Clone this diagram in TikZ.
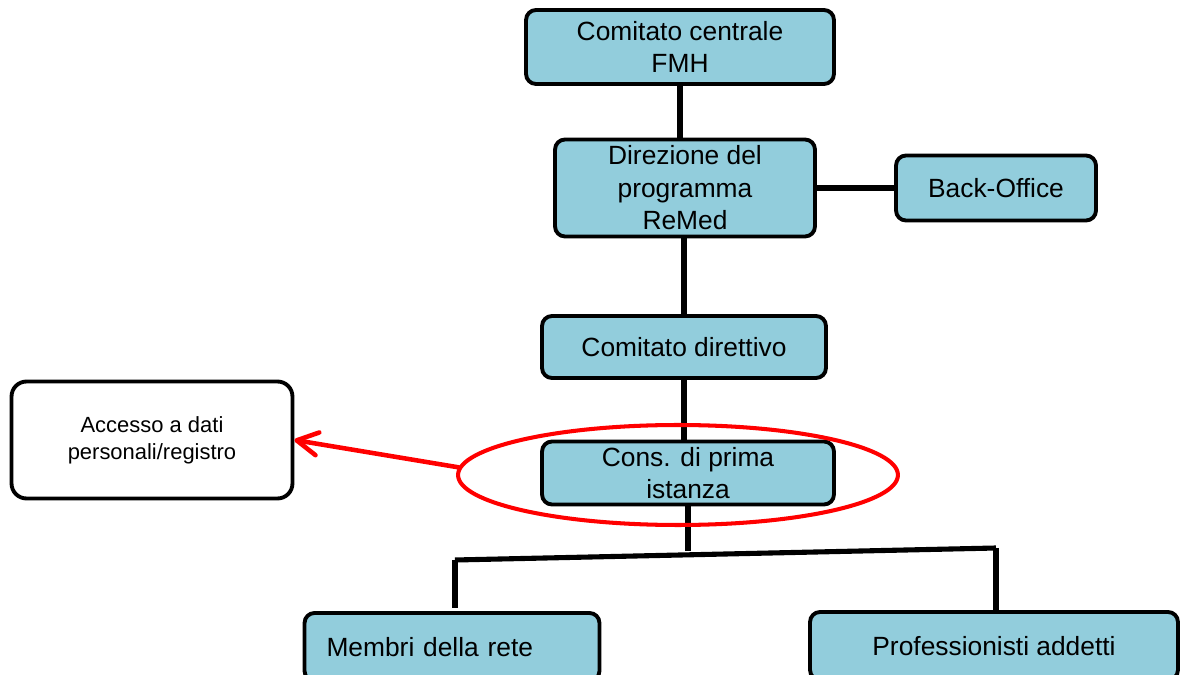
\documentclass[tikz,border=0pt]{standalone}
\usepackage{fontspec}
\setmainfont{Liberation Sans}
\usetikzlibrary{arrows.meta,shapes.geometric}
\definecolor{boxblue}{HTML}{92CDDC}
\definecolor{ringred}{HTML}{FF0000}
\tikzset{
	box/.style={draw=black, line width=2.2pt, fill=boxblue, rounded corners=0.2cm, align=center, inner sep=0pt, font=\fontsize{15}{18.5}\selectfont},
	note/.style={draw=black, line width=2.2pt, fill=white, rounded corners=0.3cm, align=center, inner sep=0pt, font=\fontsize{12.5}{15.5}\selectfont},
	link/.style={line width=2.9pt, color=black},
}

\begin{document}
\begin{tikzpicture}[x=0.02cm, y=-0.02cm]
		%%%%% START %%%%%
		
		\useasboundingbox (0, 0) rectangle (1184, 675);
		\clip (0, 0) rectangle (1184, 675);
		
		\node[box, minimum width=6.16cm, minimum height=1.48cm] (fmh) at (680, 47) {Comitato centrale\\FMH};
		\node[box, minimum width=5.2cm, minimum height=1.94cm] (dir) at (685, 188) {Direzione del\\programma\\ReMed};
		\node[box, minimum width=4.0cm, minimum height=1.3cm] (back) at (996, 188) {Back-Office};
		\node[box, minimum width=5.68cm, minimum height=1.24cm] (dirett) at (684, 347) {Comitato direttivo};
		\node[box, minimum width=5.84cm, minimum height=1.26cm] (cons) at (688, 473) {Cons. di prima\\istanza};
		
		\node[note, minimum width=5.62cm, minimum height=2.34cm] (acc) at (152, 440) {Accesso a dati\\personali/registro};
		
		\node[box, minimum width=5.9cm, minimum height=1.36cm, text width=5.02cm, inner xsep=0.44cm, align=left] (membri) at (452, 647) {Membri della rete};
		\node[box, minimum width=7.36cm, minimum height=1.36cm] (prof) at (994, 646) {Professionisti addetti};
		
		\draw[link] (fmh.south) -- (fmh.south |- dir.north);
		\draw[link] (dir.east) -- (back.west);
		\draw[link] (dirett.north) -- (dirett.north |- dir.south);
		\draw[link] (dirett.south) -- (dirett.south |- cons.north);
		
		\coordinate (hub) at (686, 551);
		\coordinate (barl) at (455, 560);
		\coordinate (barr) at (996, 548);
		\coordinate (stubl) at (455, 608);
		\draw[link] (cons.south) -- (cons.south |- hub);
		\draw[link] (barl) -- (barr);
		\draw[link] (barl) -- (stubl);
		\draw[link] (barr) -- (barr |- prof.north);
		
		\node[ellipse, draw=ringred, line width=2.3pt, minimum width=8.8cm, minimum height=2cm, inner sep=0pt] (ring) at (678, 475) {};
		\draw[line width=2.6pt, color=ringred, line cap=round, -{Straight Barb[length=0.42cm, width=0.46cm, round]}] (ring.178) -- (acc.east);
		
		%%%%% END %%%%%
	\end{tikzpicture}
\end{document}
